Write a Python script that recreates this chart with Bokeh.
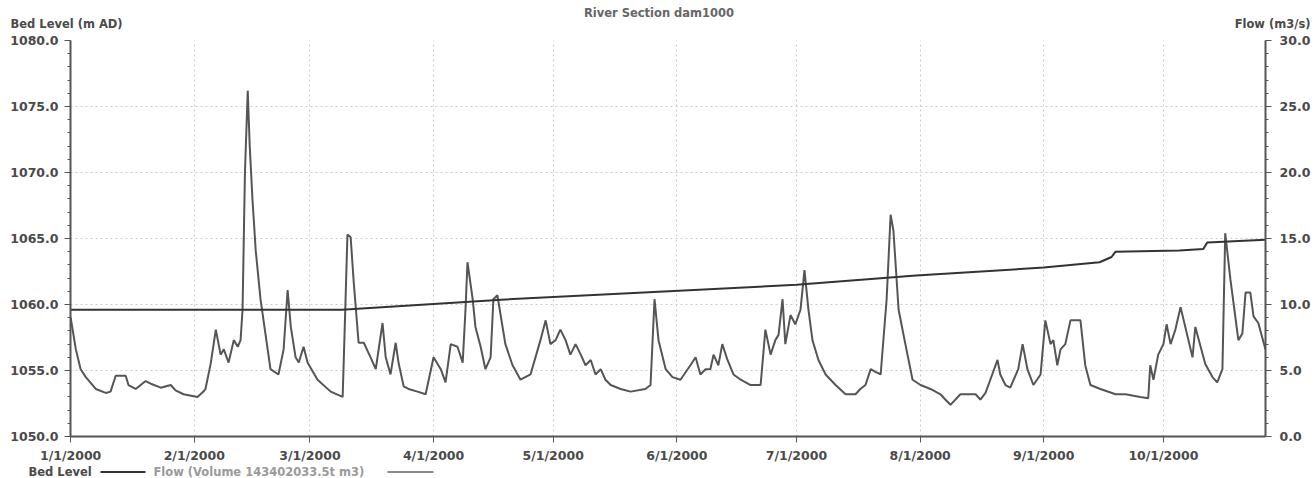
import pandas as pd
from bokeh.plotting import figure
from bokeh.layouts import column
from bokeh.models import (Range1d, LinearAxis, SingleIntervalTicker, PrintfTickFormatter,
                          DatetimeTickFormatter, MonthsTicker)
from bokeh.core.properties import value
from bokeh.embed import file_html
from bokeh.resources import INLINE

start_date = "2000-01-01"
end_day = 299.6

# Flow series (m3/s): day offset from 1/1/2000 and value
flow_days = [0, 1.3, 2.5, 3.8, 6.3, 8.8, 10.0, 11.3, 13.8, 14.5,
             16.3, 18.8, 20.1, 22.6, 25.1, 26.3, 28.3, 31.8, 33.3, 33.8,
             35.1, 36.4, 37.6, 38.4, 39.6, 40.9, 41.9, 42.6, 43.1, 43.7,
             44.4, 44.9, 45.6, 46.4, 47.6, 50.1, 52.1, 53.4, 54.4, 55.2,
             56.4, 57.2, 58.4, 59.4, 61.9, 65.2, 68.2, 68.7, 69.4, 70.2,
             71.0, 72.2, 73.5, 75.2, 76.5, 78.2, 79.0, 80.2, 81.5, 82.2,
             83.5, 84.7, 87.0, 89.0, 91.0, 92.8, 94.0, 95.3, 97.0, 98.3,
             99.0, 99.5, 100.8, 101.5, 102.8, 104.0, 105.3, 106.0, 107.0, 109.0,
             110.8, 112.8, 115.3, 117.8, 119.1, 120.3, 121.6, 122.8, 124.1, 125.3,
             126.6, 127.9, 129.1, 130.4, 131.6, 132.9, 134.1, 135.4, 137.9, 140.4,
             144.1, 145.4, 146.4, 147.4, 149.2, 150.9, 152.9, 155.4, 156.7, 157.9,
             159.2, 160.4, 161.2, 162.4, 163.4, 164.7, 166.2, 168.0, 170.5, 173.0,
             174.2, 175.5, 176.7, 177.5, 178.5, 179.2, 180.5, 181.7, 183.0, 184.0,
             185.0, 186.0, 187.5, 189.3, 191.8, 194.3, 196.8, 198.0, 199.3, 200.6,
             201.8, 203.1, 204.6, 205.6, 206.3, 207.6, 209.3, 211.1, 213.1, 215.6,
             218.1, 219.3, 220.6, 223.1, 226.9, 228.1, 229.4, 230.6, 232.4, 233.1,
             234.4, 235.6, 237.6, 238.7, 239.9, 241.4, 243.2, 244.4, 245.7, 246.4,
             247.4, 248.2, 249.4, 250.7, 251.9, 253.2, 254.4, 255.7, 258.2, 262.0,
             264.5, 268.2, 270.2, 270.7, 271.5, 272.7, 274.0, 274.8, 275.8, 277.0,
             278.3, 281.3, 282.0, 284.5, 286.3, 287.5, 288.8, 289.5, 290.8, 292.8,
             293.8, 294.6, 295.8, 296.6, 297.8, 299.6]
flow_vals = [9.0, 6.6, 5.1, 4.5, 3.6, 3.3, 3.4, 4.6, 4.6, 3.9,
             3.6, 4.2, 4.0, 3.7, 3.9, 3.5, 3.2, 3.0, 3.4, 3.6,
             5.5, 8.1, 6.2, 6.6, 5.6, 7.3, 6.8, 7.3, 9.6, 20.0,
             26.2, 22.0, 17.9, 14.1, 10.4, 5.1, 4.7, 6.6, 11.1, 8.3,
             6.0, 5.6, 6.8, 5.6, 4.3, 3.4, 3.0, 8.0, 15.3, 15.1,
             11.6, 7.1, 7.1, 6.0, 5.1, 8.6, 6.0, 4.7, 7.1, 5.6,
             3.8, 3.6, 3.4, 3.2, 6.0, 5.1, 4.1, 7.0, 6.8, 5.6,
             9.6, 13.2, 10.4, 8.3, 6.8, 5.1, 6.0, 10.4, 10.7, 7.0,
             5.4, 4.3, 4.7, 7.3, 8.8, 7.0, 7.3, 8.1, 7.3, 6.2,
             7.0, 6.2, 5.4, 5.8, 4.7, 5.1, 4.3, 3.9, 3.6, 3.4,
             3.6, 3.9, 10.4, 7.3, 5.1, 4.5, 4.3, 5.4, 6.0, 4.7,
             5.1, 5.1, 6.2, 5.4, 7.0, 5.8, 4.7, 4.3, 3.9, 3.9,
             8.1, 6.2, 7.3, 7.7, 10.4, 7.0, 9.2, 8.5, 9.6, 12.6,
             9.6, 7.3, 5.8, 4.7, 3.9, 3.2, 3.2, 3.6, 3.9, 5.1,
             4.9, 4.7, 10.4, 16.8, 15.6, 9.6, 7.0, 4.3, 3.9, 3.6,
             3.2, 2.8, 2.4, 3.2, 3.2, 2.8, 3.3, 4.3, 5.8, 4.7,
             3.9, 3.7, 5.1, 7.0, 5.1, 3.9, 4.7, 8.8, 7.0, 7.3,
             5.4, 6.6, 7.0, 8.8, 8.8, 8.8, 5.4, 3.9, 3.6, 3.2,
             3.2, 3.0, 2.9, 5.4, 4.3, 6.2, 7.0, 8.5, 7.0, 8.1,
             9.8, 6.0, 8.3, 5.5, 4.5, 4.1, 5.1, 15.4, 11.9, 7.3,
             7.8, 10.9, 10.9, 9.1, 8.6, 6.6]
assert len(flow_days) == len(flow_vals)

# Bed level (m AD)
bed_days = [0, 68, 107, 150, 182, 212, 244, 258, 261, 262, 278, 284, 285, 299.6]
bed_vals = [1059.6, 1059.6, 1060.35, 1061.0, 1061.5, 1062.2, 1062.8, 1063.2, 1063.6, 1064.0,
            1064.1, 1064.2, 1064.7, 1064.9]

title_text = "River Section dam1000"
left_label = "Bed Level (m AD)"
right_label = "Flow (m3/s)"
bed_legend = "Bed Level"
flow_legend = "Flow (Volume 143402033.5t m3)"

t0 = pd.Timestamp(start_date)
flow_x = [t0 + pd.Timedelta(days=d) for d in flow_days]
bed_x = [t0 + pd.Timedelta(days=d) for d in bed_days]
x_start = t0 - pd.Timedelta(hours=1)
x_end = t0 + pd.Timedelta(days=end_day)

FONT = "DejaVu Sans"
TXT = "#4a4a4a"
AX = "#555555"
BED_C = "#333333"
FLOW_C = "#555555"
W = 1315


def no_align(f):
    try:
        f.frame_align = False
    except Exception:
        pass


def bare(fig_h):
    f = figure(width=W, height=fig_h, x_range=Range1d(0, W), y_range=Range1d(0, fig_h),
               x_axis_type=None, y_axis_type=None, toolbar_location=None, output_backend="svg",
               min_border=0, min_border_left=0, min_border_right=0, min_border_top=0,
               min_border_bottom=0)
    f.outline_line_color = None
    f.grid.visible = False
    no_align(f)
    return f

# ---- header: title and axis names
head_h = 32
head = bare(head_h)
head.text(x=[W / 2 + 1], y=[head_h - 12], text=[title_text], text_align="center",
          text_baseline="middle", text_font=value(FONT), text_font_size="11.5px",
          text_font_style="bold", text_color="#666666")
head.text(x=[10], y=[head_h - 23], text=[left_label], text_align="left", text_baseline="middle",
          text_font=value(FONT), text_font_size="11.5px", text_font_style="bold", text_color=TXT)
head.text(x=[W - 5], y=[head_h - 23], text=[right_label], text_align="right",
          text_baseline="middle", text_font=value(FONT), text_font_size="11.5px",
          text_font_style="bold", text_color=TXT)

# ---- main chart
p = figure(width=W, height=433, x_axis_type="datetime", output_backend="svg",
           toolbar_location=None, x_range=Range1d(x_start, x_end), y_range=Range1d(1050, 1080),
           min_border_left=70, min_border_right=50, min_border_top=8, min_border_bottom=28)
p.extra_y_ranges = {"flow": Range1d(0, 30)}
p.outline_line_color = None
no_align(p)


def style_axis(ax):
    ax.axis_line_color = AX
    ax.axis_line_width = 2
    ax.major_tick_line_color = AX
    ax.minor_tick_line_color = AX
    ax.major_tick_in = 0
    ax.major_tick_out = 6
    ax.minor_tick_in = 0
    ax.minor_tick_out = 3
    ax.major_label_text_font = FONT
    ax.major_label_text_font_size = "12.5px"
    ax.major_label_text_font_style = "bold"
    ax.major_label_text_color = TXT


p.yaxis.ticker = SingleIntervalTicker(interval=5, num_minor_ticks=5)
p.yaxis.formatter = PrintfTickFormatter(format="%.1f")
style_axis(p.yaxis[0])
p.yaxis.major_label_standoff = 6

ax_r = LinearAxis(y_range_name="flow", ticker=SingleIntervalTicker(interval=5, num_minor_ticks=5),
                  formatter=PrintfTickFormatter(format="%.1f"))
style_axis(ax_r)
ax_r.major_label_standoff = 8
p.add_layout(ax_r, "right")

p.xaxis.ticker = MonthsTicker(months=list(range(1, 13)))
p.xaxis.formatter = DatetimeTickFormatter(months="%-m/%-d/%Y", days="%-m/%-d/%Y")
style_axis(p.xaxis[0])
p.xaxis.minor_tick_out = 0
p.xaxis.major_label_standoff = 5

p.xgrid.ticker = MonthsTicker(months=list(range(1, 13)))
for g in (p.xgrid[0], p.ygrid[0]):
    g.grid_line_color = "#cccccc"
    g.grid_line_dash = "2 3"
    g.grid_line_width = 1

p.line(flow_x, flow_vals, y_range_name="flow", line_color=FLOW_C, line_width=2)
p.line(bed_x, bed_vals, line_color=BED_C, line_width=2)

# ---- footer: legend (label followed by line sample)
foot_h = 13
foot = bare(foot_h)
mid = foot_h / 2
foot.text(x=[28], y=[mid], text=[bed_legend], text_align="left", text_baseline="middle",
          text_font=value(FONT), text_font_size="11.5px", text_font_style="bold", text_color=TXT)
foot.segment(x0=[100], y0=[mid], x1=[145], y1=[mid], line_color=BED_C, line_width=2)
foot.text(x=[153], y=[mid], text=[flow_legend], text_align="left", text_baseline="middle",
          text_font=value(FONT), text_font_size="11.5px", text_font_style="bold", text_color="#9a9a9a")
foot.segment(x0=[387], y0=[mid], x1=[433], y1=[mid], line_color="#8a8a8a", line_width=2)

layout = column(head, p, foot, spacing=0)
open("out.html", "w").write(file_html(layout, INLINE))
